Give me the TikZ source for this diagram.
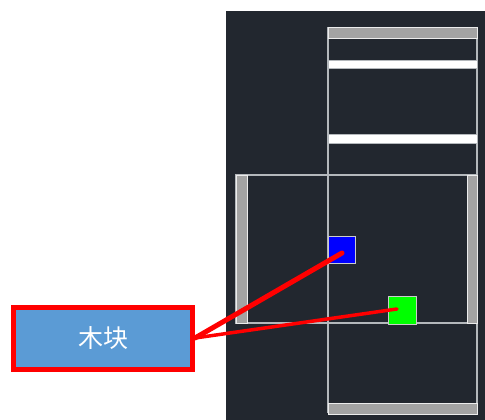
\documentclass[tikz,border=0pt]{standalone}
\usepackage{fontspec}
\newfontfamily\cjk{Noto Sans CJK SC}
\definecolor{bg}{HTML}{22272F}
\definecolor{barg}{HTML}{A3A3A3}
\definecolor{thin}{HTML}{B4B8BC}
\definecolor{lblue}{HTML}{5B9BD5}
\tikzset{
  thinline/.style={draw=thin, line width=1.2pt},
  graybar/.style={fill=barg, draw=white!85!gray, line width=0.8pt},
  whitebar/.style={fill=white, draw=thin, line width=0.8pt},
  block/.style={draw=white!60!gray, line width=0.8pt, minimum size=27pt, inner sep=0pt},
  label/.style={fill=lblue, draw=red, line width=5pt, minimum width=179pt, minimum height=62pt, inner sep=0pt, text=white, font=\cjk\fontsize{25pt}{27pt}\selectfont},
  pointer/.style={draw=red, line cap=round}
}
\begin{document}
\begin{tikzpicture}[x=1pt,y=-1pt]
\useasboundingbox (0,0) rectangle (485,420);
\fill[bg] (226,11) rectangle (485,420);
% column frame
\draw[thinline] (328,27) -- (328,413);
\draw[thinline] (477,27) -- (477,413);
% lower frame
\draw[thinline] (236,175) rectangle (477,323);
% bars
\draw[graybar] (328,27) rectangle (477,38);
\draw[whitebar] (328,60) rectangle (477,68);
\draw[whitebar] (328,134) rectangle (477,143);
\draw[graybar] (328,403) rectangle (477,414);
\draw[graybar] (236,175) rectangle (247,323);
\draw[graybar] (467,175) rectangle (477,323);
% blocks
\node[block, fill=blue, anchor=north west] (b1) at (328,236) {};
\node[block, fill=green, minimum size=28pt, anchor=north west] (b2) at (388,296) {};
% label
\node[label] (lab) at (103,338) {木块};
\coordinate (p1) at (342,253);
\coordinate (p2) at (397,309);
\draw[pointer, line width=5pt] (lab.east) -- (p1);
\draw[pointer, line width=3.5pt] (lab.east) -- (p2);
\end{tikzpicture}
\end{document}
